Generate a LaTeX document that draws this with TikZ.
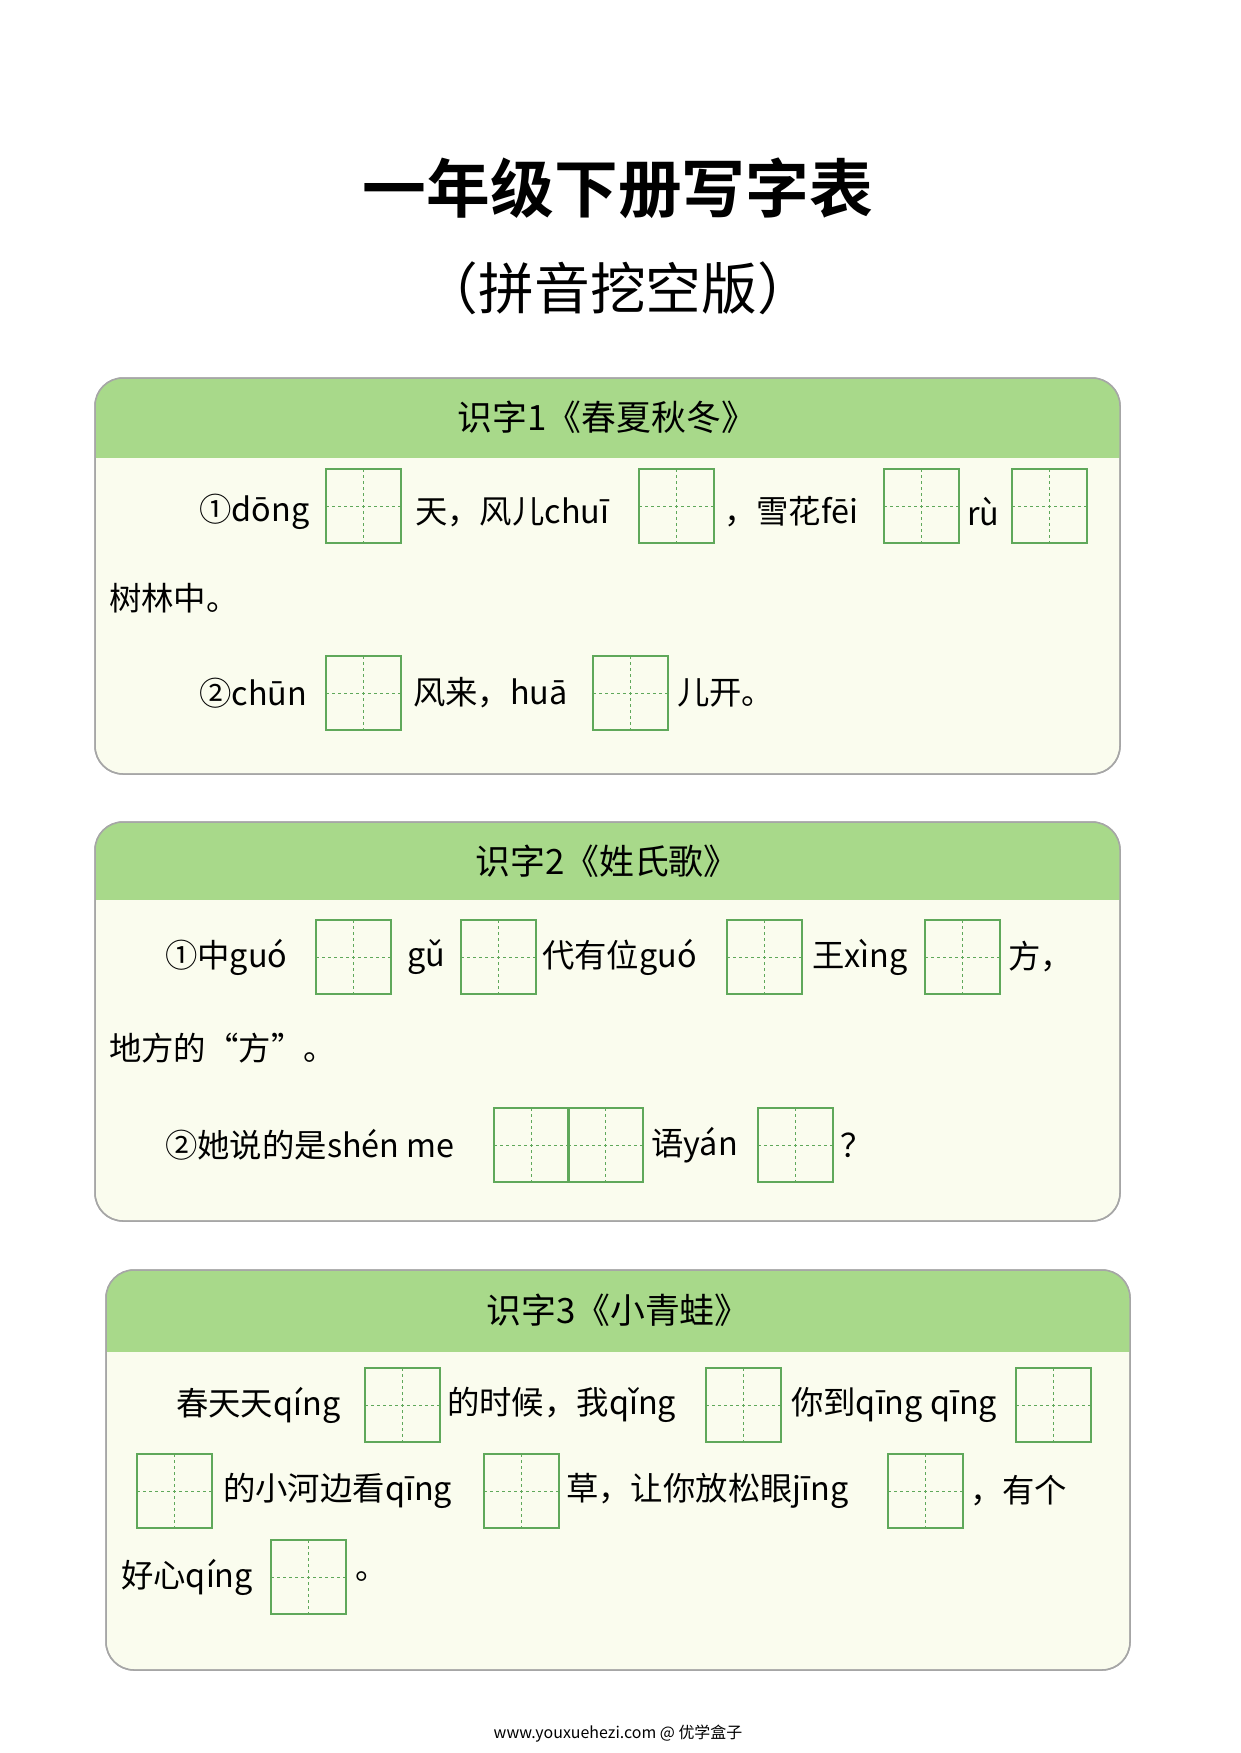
\documentclass[tikz,border=0pt]{standalone}
\usepackage{fontspec}
\setmainfont{Noto Sans CJK SC}
\newfontfamily\cjk{Noto Sans CJK SC}
\newfontfamily\cjkb{Noto Sans CJK SC Bold}
\definecolor{hdr}{HTML}{A8D98A}
\definecolor{bodyc}{HTML}{FAFCEE}
\definecolor{gbox}{HTML}{5FA85A}
\newcommand{\tzg}[2]{%
  \draw[gbox,line width=1.3bp] (#1,#2-43) rectangle (#1+75,#2+31);
  \draw[gbox,dashed,line width=0.7bp,dash pattern=on 3bp off 3bp] (#1+37.5,#2-43) -- (#1+37.5,#2+31) (#1,#2-6) -- (#1+75,#2-6);}
\tikzset{txt/.style={anchor=west,inner sep=0,font=\fontsize{32.5}{34}\selectfont},
 hd/.style={font=\fontsize{35}{36}\selectfont,inner sep=0},
 panel/.style={draw=black!35,line width=1.5bp,fill=bodyc,rounded corners=28bp}}
\begin{document}
\begin{tikzpicture}[x=1bp,y=-1bp]
\useasboundingbox[fill=white] (0,0) rectangle (1240,1753);
\node[inner sep=0,font=\fontsize{64}{66}\selectfont\cjkb] (t1) at (618,188) {一年级下册写字表};
\node[inner sep=0,font=\fontsize{56}{58}\selectfont] (t2) at (618,288) {（拼音挖空版）};
% panels
\foreach \xa/\xb/\ya/\yb/\yh in {95/1120/378/774/458, 95/1120/822/1221/900, 106/1130/1270/1670/1352}{
  \fill[panel] (\xa,\ya) rectangle (\xb,\yb);
  \begin{scope}
  \clip[rounded corners=28bp] (\xa,\ya) rectangle (\xb,\yb);
  \fill[hdr] (\xa,\ya) rectangle (\xb,\yh);
  \end{scope}
  \draw[draw=black!35,line width=1.5bp,rounded corners=28bp] (\xa,\ya) rectangle (\xb,\yb);
}
\node[hd] (h1) at (607,417) {识字1《春夏秋冬》};
\node[hd] (h2) at (607,861) {识字2《姓氏歌》};
\node[hd] (h3) at (618,1310) {识字3《小青蛙》};
% box 1
\node[txt] at (199,512) {①dōng}; \tzg{326}{512}
\node[txt] at (415,512) {天，风儿chuī}; \tzg{639}{512}
\node[txt] at (724,512) {，雪花fēi}; \tzg{884}{512}
\node[txt] at (967,512) {rù}; \tzg{1012}{512}
\node[txt] at (109,598) {树林中。};
\node[txt] at (199,693) {②chūn}; \tzg{326}{699}
\node[txt] at (413,693) {风来，huā}; \tzg{593}{699}
\node[txt] at (677,693) {儿开。};
% box 2
\node[txt] at (165,957) {①中guó}; \tzg{316}{963}
\node[txt] at (407,957) {gǔ}; \tzg{461}{963}
\node[txt] at (542,957) {代有位guó}; \tzg{727}{963}
\node[txt] at (812,957) {王xìng}; \tzg{925}{963}
\node[txt] at (1008,957) {方，};
\node[txt] at (109,1048) {地方的“方”。};
\node[txt] at (165,1145) {②她说的是shén me}; \tzg{494}{1151}\tzg{568}{1151}
\node[txt] at (651,1145) {语yán}; \tzg{758}{1151}
\node[txt] at (840,1145) {？};
% box 3
\node[txt] at (176,1405) {春天天qíng}; \tzg{365}{1411}
\node[txt] at (447,1405) {的时候，我qǐng}; \tzg{706}{1411}
\node[txt] at (791,1405) {你到qīng qīng}; \tzg{1016}{1411}
\tzg{137}{1497}
\node[txt] at (223,1491) {的小河边看qīng}; \tzg{484}{1497}
\node[txt] at (566,1491) {草，让你放松眼jīng}; \tzg{888}{1497}
\node[txt] at (970,1491) {，有个};
\node[txt] at (121,1577) {好心qíng}; \tzg{271}{1583}
\node[txt] at (355,1577) {。};
\node[inner sep=0,font=\fontsize{16}{18}\selectfont] (ft) at (618,1734) {www.youxuehezi.com @ 优学盒子};
\end{tikzpicture}
\end{document}
